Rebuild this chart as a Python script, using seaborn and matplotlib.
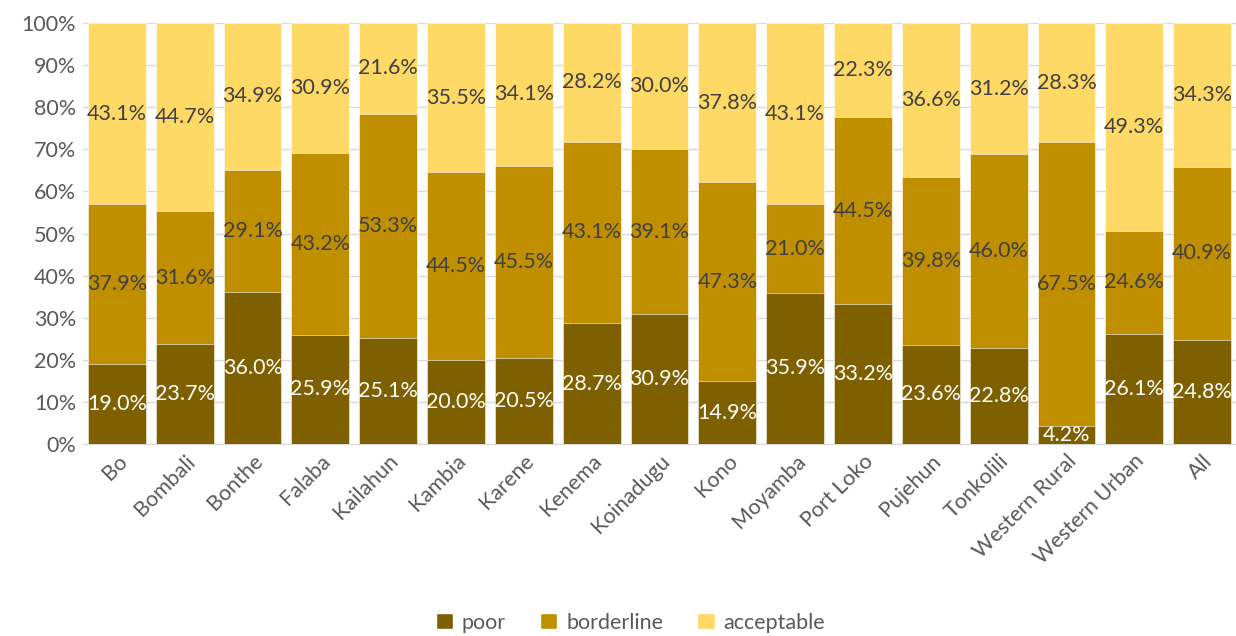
import numpy as np
import pandas as pd
import matplotlib
matplotlib.use("Agg")
import matplotlib.pyplot as plt
import seaborn as sns
from matplotlib.patches import Patch

# Données
districts = ["Bo", "Bombali", "Bonthe", "Falaba", "Kailahun", "Kambia", "Karene",
             "Kenema", "Koinadugu", "Kono", "Moyamba", "Port Loko", "Pujehun",
             "Tonkolili", "Western Rural", "Western Urban", "All"]
poor = [19.0, 23.7, 36.0, 25.9, 25.1, 20.0, 20.5, 28.7, 30.9, 14.9, 35.9, 33.2,
        23.6, 22.8, 4.2, 26.1, 24.8]
borderline = [37.9, 31.6, 29.1, 43.2, 53.3, 44.5, 45.5, 43.1, 39.1, 47.3, 21.0,
              44.5, 39.8, 46.0, 67.5, 24.6, 40.9]
acceptable = [43.1, 44.7, 34.9, 30.9, 21.6, 35.5, 34.1, 28.2, 30.0, 37.8, 43.1,
              22.3, 36.6, 31.2, 28.3, 49.3, 34.3]
series = ["poor", "borderline", "acceptable"]
colors = ["#7F6000", "#BF8F00", "#FFD966"]
label_colors = ["white", "#404040", "#404040"]

sns.set_style("white")
plt.rcParams["font.family"] = ["Lato", "DejaVu Sans"]

df = pd.DataFrame({"district": districts, "poor": poor,
                   "borderline": borderline, "acceptable": acceptable})
df["c1"] = df["poor"]
df["c2"] = df["poor"] + df["borderline"]
df["c3"] = df["c2"] + df["acceptable"]

fig = plt.figure(figsize=(12.36, 6.36), dpi=100)
ax = fig.add_axes([83 / 1236, 1 - 444 / 636, 1 - 83 / 1236, 421 / 636])

# Barres empilées : on dessine les cumuls du plus grand au plus petit
for col, c in zip(["c3", "c2", "c1"], colors[::-1]):
    sns.barplot(data=df, x="district", y=col, color=c, width=0.853,
                edgecolor="#ffffff", linewidth=0.4, saturation=1, ax=ax, zorder=3)

# Étiquettes centrées dans chaque segment
bottoms = np.zeros(len(districts))
for name, lc in zip(series, label_colors):
    vals = df[name].values
    for i, v in enumerate(vals):
        ax.text(i, bottoms[i] + v / 2, f"{v:.1f}%", ha="center", va="center",
                fontsize=15.5, color=lc, zorder=5)
    bottoms += vals

ax.set_ylim(0, 100)
ax.set_xlim(-0.5, len(districts) - 0.5)
ax.set_yticks(np.arange(0, 101, 10))
ax.set_yticklabels([f"{t}%" for t in range(0, 101, 10)])
ax.yaxis.grid(True, color="#D9D9D9", linewidth=1, zorder=0)
ax.set_axisbelow(True)
ax.set_xlabel("")
ax.set_ylabel("")
for s in ["top", "right", "left"]:
    ax.spines[s].set_visible(False)
ax.spines["bottom"].set_color("#D9D9D9")
ax.tick_params(axis="both", length=0, labelsize=15.5, colors="#595959")
ax.tick_params(axis="y", pad=5)
ax.tick_params(axis="x", pad=5)
plt.setp(ax.get_xticklabels(), rotation=45, ha="right", va="top",
         rotation_mode="anchor")

handles = [Patch(facecolor=c, label=n) for n, c in zip(series, colors)]
leg = fig.legend(handles=handles, loc="lower center", bbox_to_anchor=(0.51, -0.025),
                 ncol=3, frameon=False, fontsize=15.5, handlelength=0.8,
                 handleheight=0.8, handletextpad=0.4, columnspacing=1.6)
for t in leg.get_texts():
    t.set_color("#595959")

fig.savefig("out.png", dpi=100)
